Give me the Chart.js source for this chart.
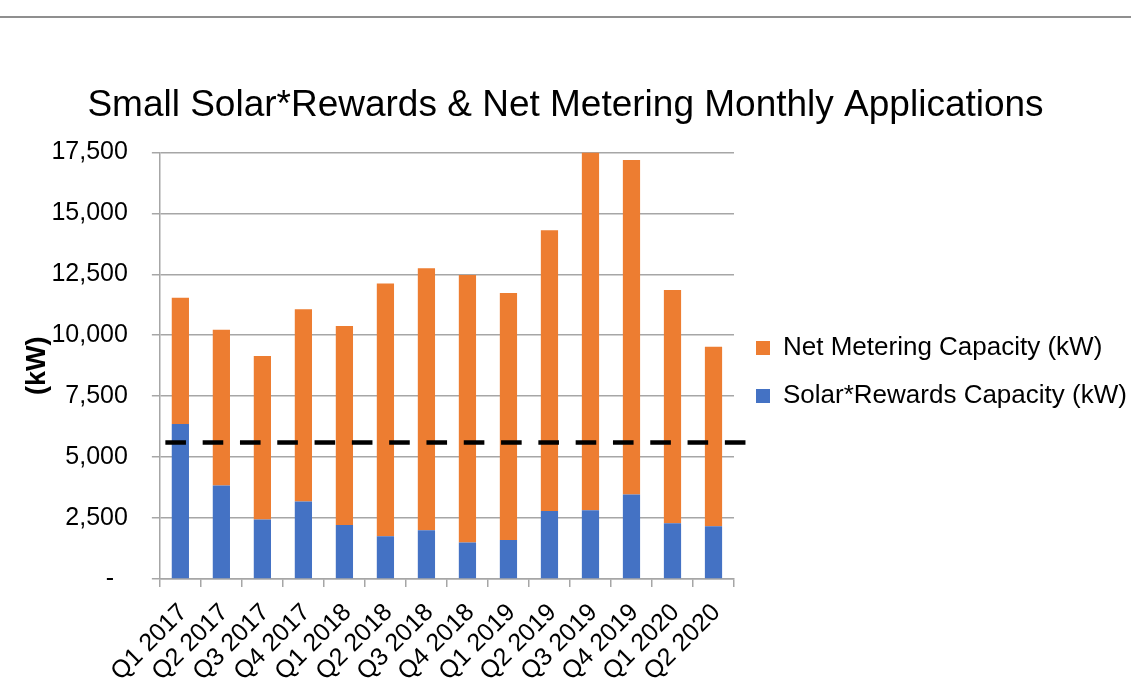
<!DOCTYPE html>
<html>
<head>
<meta charset="utf-8">
<title>Small Solar*Rewards & Net Metering Monthly Applications</title>
<script src="https://cdn.jsdelivr.net/npm/chart.js@4.4.1/dist/chart.umd.min.js"></script>
<style>
  html, body { margin: 0; padding: 0; background: #fff; overflow: hidden; }
  #topRule { position: absolute; left: 0; top: 16px; width: 1131px; border-top: 2px solid #8f8f8f; }
  #wrap { position: relative; width: 1131px; height: 698px; }
</style>
</head>
<body>
<div id="wrap"><canvas id="myChart"></canvas></div>
<div id="topRule"></div>
<script>
// data
const quarters = ['Q1 2017', 'Q2 2017', 'Q3 2017', 'Q4 2017', 'Q1 2018', 'Q2 2018', 'Q3 2018',
                  'Q4 2018', 'Q1 2019', 'Q2 2019', 'Q3 2019', 'Q4 2019', 'Q1 2020', 'Q2 2020'];
const solarRewards = [6355, 3833, 2437, 3176, 2218, 1753, 2000, 1493, 1602, 2793, 2821, 3464, 2287, 2164];
const netMetering  = [5177, 6396, 6711, 7888, 8162, 10366, 10748, 10982, 10133, 11517, 14679, 13721, 9572, 7367];
const yMax = 17500;
const yStep = 2500;
const targetLine = 5600;

const FONT = "'Liberation Sans', Arial, sans-serif";

// dashed reference line, y from the scale
const dashedLine = {
  id: 'dashedLine',
  afterDatasetsDraw(chart) {
    const {ctx, chartArea, scales} = chart;
    const y = scales.y.getPixelForValue(targetLine);
    ctx.save();
    ctx.strokeStyle = '#000';
    ctx.lineWidth = 4.5;
    ctx.setLineDash([20.6, 16.7]);
    ctx.beginPath();
    ctx.moveTo(chartArea.left + 5.5, y);
    ctx.lineTo(chartArea.right + 12, y);
    ctx.stroke();
    ctx.restore();
  }
};

const data = {
  labels: quarters,
  datasets: [
    {
      label: 'Solar*Rewards Capacity (kW)',
      data: solarRewards,
      backgroundColor: '#4472C4',
      borderWidth: 0
    },
    {
      label: 'Net Metering Capacity (kW)',
      data: netMetering,
      backgroundColor: '#ED7D31',
      borderWidth: 0
    }
  ]
};

const config_bar = {
  type: 'bar',
  data,
  options: {
    responsive: true,
    maintainAspectRatio: false,
    animation: false,
    layout: { padding: { left: 0, right: 0, top: 0, bottom: 0 } },
    datasets: { bar: { categoryPercentage: 1, barPercentage: 0.42 } },
    scales: {
      x: {
        stacked: true,
        grid: { display: true, drawOnChartArea: false, offset: true, tickLength: 8, color: '#a6a6a6', lineWidth: 1.5 },
        border: { display: true, color: '#a6a6a6', width: 1.5 },
        ticks: {
          color: '#000', font: { family: FONT, size: 25 },
          minRotation: 45, maxRotation: 45, padding: 11, labelOffset: 3, autoSkip: false
        }
      },
      y: {
        stacked: true,
        min: 0,
        max: yMax,
        grid: { color: '#a6a6a6', lineWidth: 1.5, tickLength: 8 },
        border: { display: true, color: '#a6a6a6', width: 1.5 },
        ticks: {
          stepSize: yStep,
          color: '#000',
          font: { family: FONT, size: 25 },
          padding: 24,
          callback: v => v === 0 ? '-  ' : v.toLocaleString('en-US')
        },
        title: {
          display: true,
          text: '(kW)',
          color: '#000',
          font: { family: FONT, size: 27, weight: 'bold' },
          padding: { top: 21, bottom: -26 }
        }
      }
    },
    plugins: {
      title: {
        display: true,
        text: 'Small Solar*Rewards & Net Metering Monthly Applications',
        color: '#000',
        font: { family: FONT, size: 37, weight: 'normal' },
        padding: { top: 84, bottom: 24 }
      },
      legend: {
        position: 'right',
        reverse: true,
        maxWidth: 397,
        title: { display: true, text: ' ', font: { size: 20 }, padding: 11 },
        labels: {
          color: '#000',
          font: { family: FONT, size: 26 },
          boxWidth: 14,
          boxHeight: 14,
          padding: 22
        }
      },
      tooltip: { enabled: false }
    }
  },
  plugins: [dashedLine]
};

const myChart = new Chart(document.getElementById('myChart'), config_bar);
</script>
</body>
</html>
